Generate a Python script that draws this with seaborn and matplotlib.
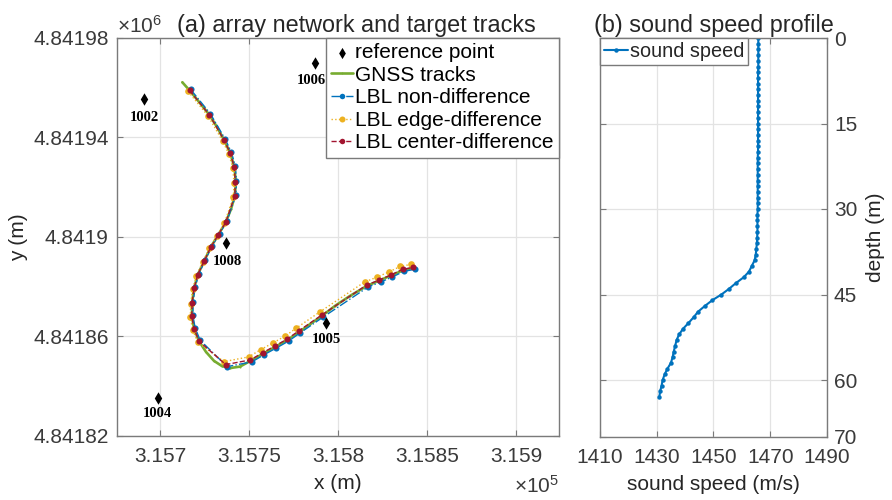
import numpy as np
import pandas as pd
import matplotlib
matplotlib.use('Agg')
import matplotlib.pyplot as plt
import seaborn as sns
from matplotlib.ticker import FuncFormatter, FixedLocator

# ---------------- data ----------------
ref_names = ['1002', '1006', '1008', '1005', '1004']
ref_x = [315691.0, 315787.1, 315736.9, 315793.3, 315698.7]
ref_y = [4841955.4, 4841970.1, 4841897.5, 4841865.6, 4841835.2]

gnss_x = [315712.5, 315716.6, 315721.9, 315727.7, 315732.0, 315736.1, 315739.5, 315741.7,
          315742.6, 315742.0, 315739.9, 315736.9, 315732.8, 315728.4, 315724.7, 315721.2,
          315719.1, 315718.0, 315717.9, 315719.1, 315721.9, 315725.8, 315730.3, 315734.8,
          315739.3, 315744.9, 315750.8, 315757.7, 315764.6, 315771.5, 315777.8, 315784.3,
          315790.8, 315798.3, 315806.7, 315816.1, 315823.2, 315829.6, 315836.3, 315841.6]
gnss_y = [4841962.2, 4841958.9, 4841954.3, 4841949.1, 4841944.2, 4841938.8, 4841933.6, 4841928.1,
          4841922.2, 4841916.5, 4841911.3, 4841905.9, 4841901.0, 4841895.8, 4841890.2, 4841884.9,
          4841879.4, 4841873.6, 4841868.1, 4841863.1, 4841858.1, 4841853.8, 4841850.2, 4841848.1,
          4841847.3, 4841847.9, 4841850.2, 4841853.0, 4841855.8, 4841858.6, 4841861.6, 4841865.0,
          4841868.2, 4841872.3, 4841876.3, 4841880.3, 4841882.5, 4841884.5, 4841886.5, 4841887.5]

nondiff_x = [315717.2, 315728.3, 315736.7, 315740.1, 315742.3, 315742.9, 315742.6, 315737.5,
             315733.4, 315729.0, 315725.3, 315721.8, 315719.7, 315718.6, 315718.4, 315719.7,
             315722.5, 315737.7, 315751.6, 315758.5, 315765.4, 315772.3, 315778.6, 315791.6,
             315816.9, 315824.0, 315830.4, 315837.1, 315843.1]
nondiff_y = [4841959.3, 4841949.5, 4841939.2, 4841934.0, 4841928.5, 4841922.6, 4841916.9, 4841906.3,
             4841901.4, 4841896.2, 4841890.6, 4841885.3, 4841879.8, 4841874.0, 4841868.5, 4841863.5,
             4841858.5, 4841847.9, 4841849.8, 4841852.7, 4841855.4, 4841858.2, 4841861.4, 4841867.8,
             4841879.9, 4841881.9, 4841883.9, 4841886.2, 4841887.0]

edge_x = [315715.8, 315726.9, 315735.3, 315738.7, 315740.9, 315741.5, 315741.2, 315736.1,
          315732.0, 315727.6, 315723.9, 315720.4, 315718.3, 315717.2, 315717.0, 315718.3,
          315721.1, 315735.9, 315749.8, 315756.5, 315763.4, 315770.3, 315776.6, 315789.6,
          315814.9, 315822.0, 315828.4, 315835.1, 315841.1]
edge_y = [4841958.5, 4841948.7, 4841938.4, 4841933.2, 4841927.7, 4841921.8, 4841916.1, 4841905.5,
          4841900.6, 4841895.4, 4841889.8, 4841884.5, 4841879.0, 4841873.2, 4841867.7, 4841862.7,
          4841857.7, 4841849.9, 4841851.8, 4841854.7, 4841857.4, 4841860.2, 4841863.4, 4841869.8,
          4841881.9, 4841883.9, 4841885.9, 4841888.2, 4841889.0]

center_x = [315716.6, 315727.7, 315736.1, 315739.5, 315741.7, 315742.3, 315742.0, 315736.9,
            315732.8, 315728.4, 315724.7, 315721.2, 315719.1, 315718.0, 315717.8, 315719.1,
            315721.9, 315736.9, 315750.8, 315757.7, 315764.6, 315771.5, 315777.8, 315790.8,
            315816.1, 315823.2, 315829.6, 315836.3, 315842.3]
center_y = [4841958.9, 4841949.1, 4841938.8, 4841933.6, 4841928.1, 4841922.2, 4841916.5, 4841905.9,
            4841901.0, 4841895.8, 4841890.2, 4841884.9, 4841879.4, 4841873.6, 4841868.1, 4841863.1,
            4841858.1, 4841848.7, 4841850.6, 4841853.5, 4841856.2, 4841859.0, 4841862.2, 4841868.6,
            4841880.7, 4841882.7, 4841884.7, 4841887.0, 4841887.8]

depth = list(range(0, 64))
sound_speed = [1465.8, 1465.8, 1465.8, 1465.8, 1465.8, 1465.8, 1465.7, 1465.7, 1465.7, 1465.7,
               1465.7, 1465.7, 1465.7, 1465.7, 1465.7, 1465.7, 1465.7, 1465.7, 1465.7, 1465.7,
               1465.7, 1465.6, 1465.6, 1465.6, 1465.6, 1465.6, 1465.6, 1465.6, 1465.6, 1465.6,
               1465.6, 1465.5, 1465.5, 1465.5, 1465.5, 1465.4, 1465.3, 1465.1, 1464.9, 1464.5,
               1463.5, 1462.5, 1460.6, 1457.9, 1455.5, 1452.8, 1449.6, 1447.0, 1444.6, 1443.0,
               1441.2, 1439.3, 1437.9, 1437.0, 1436.5, 1436.0, 1435.6, 1435.0, 1433.8, 1432.8,
               1432.1, 1431.7, 1431.2, 1430.9]

x_ticks = [315700, 315750, 315800, 315850, 315900]
y_ticks = [4841820, 4841860, 4841900, 4841940, 4841980]
speed_ticks = [1410, 1430, 1450, 1470, 1490]
depth_ticks = [0, 15, 30, 45, 60, 70]

# ---------------- style ----------------
sns.set_theme(style='whitegrid')
plt.rcParams['font.family'] = ['Liberation Sans', 'DejaVu Sans']
plt.rcParams['mathtext.fontset'] = 'custom'
plt.rcParams['mathtext.rm'] = 'Liberation Sans'

TXT = '#262626'
TICK = '#3a3a3a'
SPINE = '#7a7a7a'
GRID = '#e3e3e3'
FS = 15
TFS = 16.8

fig = plt.figure(figsize=(8.92, 5.0), dpi=100)
fig.patch.set_facecolor('white')
ax1 = fig.add_axes([0.1312, 0.128, 0.4955, 0.796])
ax2 = fig.add_axes([0.6726, 0.126, 0.2545, 0.798])

# ---------------- panel (a) ----------------
sns.lineplot(x=gnss_x, y=gnss_y, ax=ax1, sort=False, estimator=None, color='#77AC30',
             linewidth=1.9, marker='.', markersize=3, markeredgewidth=0, label='GNSS tracks', zorder=3)
sns.lineplot(x=nondiff_x, y=nondiff_y, ax=ax1, sort=False, estimator=None, color='#0072BD',
             linewidth=1.0, linestyle='-.', marker='o', markersize=4.4, markeredgewidth=0,
             label='LBL non-difference', zorder=4)
sns.lineplot(x=edge_x, y=edge_y, ax=ax1, sort=False, estimator=None, color='#EDB120',
             linewidth=1.0, linestyle=':', marker='o', markersize=4.8, markeredgewidth=0,
             label='LBL edge-difference', zorder=5)
sns.lineplot(x=center_x, y=center_y, ax=ax1, sort=False, estimator=None, color='#A2142F',
             linewidth=1.0, linestyle='--', dashes=(4, 3), marker='o', markersize=4.4, markeredgewidth=0,
             label='LBL center-difference', zorder=6)
sns.scatterplot(x=ref_x, y=ref_y, ax=ax1, marker='d', color='black', s=40, linewidth=0,
                label='reference point', zorder=7)

label_offsets = [(0, -13), (-2.5, -13), (1, -13), (0.5, -12.5), (0, -11)]
for name, xx, yy, off in zip(ref_names, ref_x, ref_y, label_offsets):
    ax1.annotate(name, (xx, yy), xytext=off, textcoords='offset points', ha='center', va='center',
                 fontsize=10.5, fontweight='bold', family=['Liberation Serif', 'DejaVu Serif'],
                 color='black', zorder=8)

ax1.set_xlim(315675.8, 315924.2)
ax1.set_ylim(4841820, 4841980)
ax1.xaxis.set_major_locator(FixedLocator(x_ticks))
ax1.yaxis.set_major_locator(FixedLocator(y_ticks))
ax1.xaxis.set_major_formatter(FuncFormatter(lambda v, p: f'{v/1e5:.4f}'.rstrip('0').rstrip('.')))
ax1.yaxis.set_major_formatter(FuncFormatter(lambda v, p: f'{v/1e6:.5f}'.rstrip('0').rstrip('.')))
ax1.set_xlabel('x (m)', fontsize=FS, color=TXT, labelpad=6)
ax1.set_ylabel('y (m)', fontsize=FS, color=TXT, labelpad=4)
ax1.set_title('(a) array network and target tracks', fontsize=TFS, color=TXT, x=0.542, pad=4)
ax1.text(0.0, 1.003, r'$\times\mathregular{10^{6}}$', transform=ax1.transAxes, ha='left', va='bottom',
         fontsize=FS, color=TICK)
ax1.text(1.0, -0.098, r'$\times\mathregular{10^{5}}$', transform=ax1.transAxes, ha='right', va='top',
         fontsize=FS, color=TICK)

handles, labels = ax1.get_legend_handles_labels()
order = [labels.index(l) for l in ['reference point', 'GNSS tracks', 'LBL non-difference',
                                    'LBL edge-difference', 'LBL center-difference']]
leg = ax1.legend([handles[i] for i in order], [labels[i] for i in order], loc='upper right',
                 borderaxespad=0, fontsize=15, frameon=True, fancybox=False, framealpha=1,
                 edgecolor=SPINE, labelspacing=0.17, handlelength=1.05, handletextpad=0.12,
                 borderpad=0.25, markerscale=0.9)
leg.get_frame().set_linewidth(1.0)
for t in leg.get_texts():
    t.set_color('black')

# ---------------- panel (b) ----------------
sns.lineplot(x=sound_speed, y=depth, ax=ax2, sort=False, estimator=None, orient='y', color='#0072BD',
             linewidth=1.5, marker='o', markersize=3.2, markeredgewidth=0, label='sound speed')
ax2.set_xlim(1410, 1490)
ax2.set_ylim(70, 0)
ax2.xaxis.set_major_locator(FixedLocator(speed_ticks))
ax2.yaxis.set_major_locator(FixedLocator(depth_ticks))
ax2.yaxis.tick_right()
ax2.yaxis.set_label_position('right')
ax2.set_xlabel('sound speed (m/s)', fontsize=FS, color=TXT, labelpad=6)
ax2.set_ylabel('depth (m)', fontsize=FS, color=TXT, labelpad=6)
ax2.set_title('(b) sound speed profile', fontsize=TFS, color=TXT, pad=4)
leg2 = ax2.legend(loc='upper left', borderaxespad=0, fontsize=14.3, frameon=True, fancybox=False,
                  framealpha=1, edgecolor=SPINE, handlelength=1.2, handletextpad=0.12, borderpad=0.2)
leg2.get_frame().set_linewidth(1.0)

for ax in (ax1, ax2):
    ax.set_facecolor('white')
    ax.grid(True, color=GRID, linewidth=0.9)
    ax.set_axisbelow(True)
    for s in ax.spines.values():
        s.set_color(SPINE)
        s.set_linewidth(1.0)
        s.set_visible(True)
    ax.tick_params(axis='both', which='major', direction='in', length=4, width=0.8, color=SPINE,
                   labelsize=FS, labelcolor=TICK, pad=6, top=True, bottom=True, left=True, right=True)
    ax.tick_params(axis='x', pad=8)

ax2.tick_params(axis='y', labelleft=False, labelright=True, pad=5)

fig.savefig('out.png', dpi=100, facecolor='white')
